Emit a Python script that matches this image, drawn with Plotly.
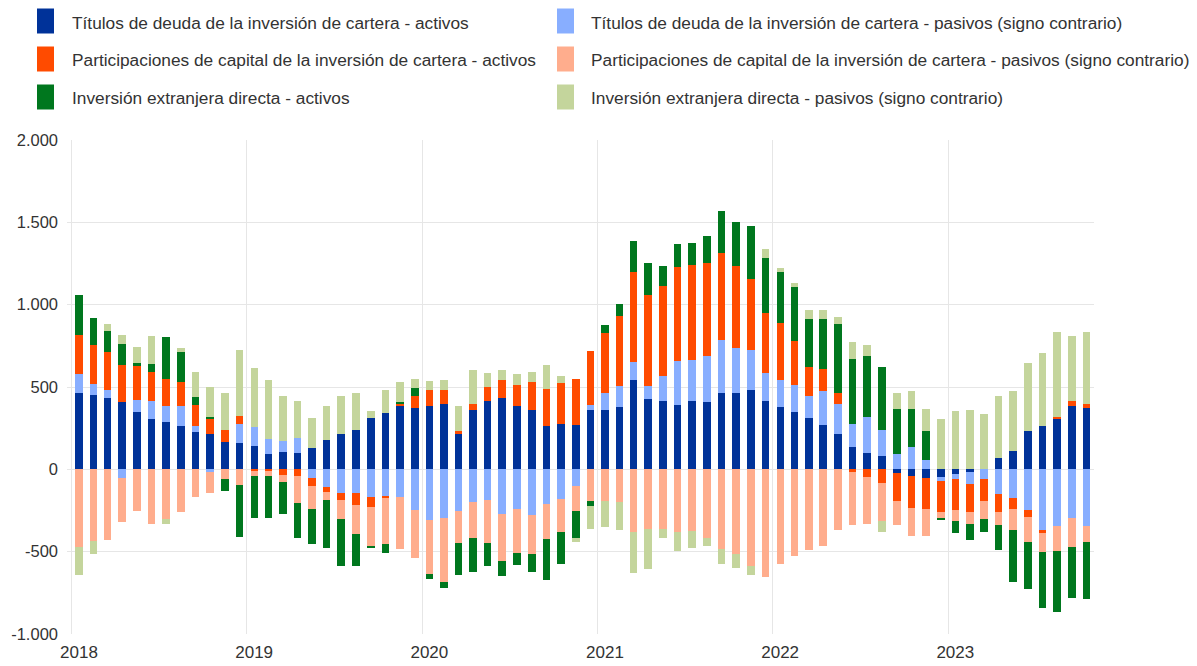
import plotly.graph_objects as go
import pandas as pd

# Monthly observations, Jan 2018 - Oct 2023 (EUR bn, 12-month sums)
months = pd.date_range("2018-01-01", "2023-10-01", freq="MS")

debt_assets = [465, 453, 435, 406, 349, 308, 288, 265, 228, 216, 163, 161,
               141, 92, 104, 100, 129, 177, 212, 239, 310, 343, 386, 375,
               386, 398, 212, 363, 412, 432, 384, 363, 265, 277, 271, 361,
               363, 377, 545, 426, 412, 392, 416, 406, 461, 461, 481, 418,
               376, 349, 310, 271, 212, 135, 98, 78, -22, -43, -51, -45,
               -31, -14, 0, 67, 112, 233, 265, 310, 386, 371]
debt_liab = [112, 63, 46, -51, 75, 110, 96, 121, 33, -16, 0, 112,
             118, 92, 69, 92, -51, -108, -145, -145, -165, -159, -165, -247,
             -306, -298, -255, -198, -188, -271, -239, -275, -208, -180, -102, 29,
             100, 131, 104, 78, 153, 267, 251, 284, 326, 273, 243, 165,
             166, 165, 137, 204, 186, 140, 220, 163, 94, 135, 59, -26,
             -30, -76, -59, -151, -177, -249, -373, -343, -296, -347]
equity_assets = [239, 237, 231, 226, 206, 172, 165, 146, 129, 94, 78, 49,
                 -8, -10, -35, -41, -51, -31, -41, -69, -61, -18, 10, 68,
                 97, 85, 21, 35, 88, 109, 130, 165, 223, 245, 280, 328,
                 365, 422, 548, 553, 549, 571, 571, 561, 529, 498, 431, 366,
                 348, 267, 175, 135, 63, -16, -45, -80, -170, -190, -188, -190,
                 -188, -167, -135, -106, -64, -43, -11, 10, 32, 27]
equity_liab = [-473, -437, -428, -271, -255, -333, -302, -261, -169, -125, -61, -98,
               -33, -31, -43, -165, -139, -49, -116, -176, -245, -278, -318, -294,
               -330, -385, -194, -218, -261, -286, -267, -239, -214, -201, -153, -190,
               -192, -198, -381, -365, -361, -381, -373, -414, -486, -512, -585, -651,
               -573, -528, -488, -467, -369, -323, -285, -234, -148, -173, -167, -33,
               -67, -76, -110, -84, -130, -147, -120, -153, -175, -94]
fdi_assets = [241, 165, 131, 127, 13, 49, 253, 178, 47, 10, -73, -312,
              -255, -255, -195, -208, -214, -287, -283, -195, -8, -51, 14, 53,
              -27, -37, -194, -206, -139, -92, -77, -108, -253, -194, -163, -30,
              47, 72, 190, 196, 122, 141, 139, 165, 255, 271, 324, 336,
              306, 325, 288, 300, 424, 394, 372, 379, 271, 230, 176, -16,
              -70, -95, -77, -151, -312, -285, -339, -369, -310, -348]
fdi_liab = [-170, -79, 40, 55, 102, 173, -28, 28, 155, 180, 222, 404,
            357, 357, 272, 224, 183, 207, 233, 226, 47, 136, 120, 55,
            54, 58, 151, 208, 85, 65, 63, 62, 148, 47, -23, -141,
            -159, -173, -247, -239, -57, -113, -104, -53, -89, -90, -58, 53,
            27, 24, 59, 59, 41, 104, 63, -65, 96, 110, 134, 308,
            357, 361, 337, 376, 361, 410, 439, 512, 390, 434]

series_names = [
    "Títulos de deuda de la inversión de cartera - activos",
    "Títulos de deuda de la inversión de cartera - pasivos (signo contrario)",
    "Participaciones de capital de la inversión de cartera - activos",
    "Participaciones de capital de la inversión de cartera - pasivos (signo contrario)",
    "Inversión extranjera directa - activos",
    "Inversión extranjera directa - pasivos (signo contrario)",
]
series_values = [debt_assets, debt_liab, equity_assets, equity_liab, fdi_assets, fdi_liab]
series_colors = ["#003299", "#88AEFF", "#FF4B00", "#FFAD8D", "#00771E", "#C4D59C"]

year_starts = ["2018-01-01", "2019-01-01", "2020-01-01", "2021-01-01", "2022-01-01", "2023-01-01"]
year_label_pos = ["2018-01-16", "2019-01-16", "2020-01-16", "2021-01-16", "2022-01-16", "2023-01-16"]
year_labels = ["2018", "2019", "2020", "2021", "2022", "2023"]
y_tickvals = [-1000, -500, 0, 500, 1000, 1500, 2000]
y_ticktext = ["-1.000", "-500", "0", "500", "1.000", "1.500", "2.000"]

FONT = "Arial, 'Liberation Sans', sans-serif"
TXT = "#333333"
GRID = "#E6E6E6"

# the page body adds an 8px offset; size the figure so it fits the window
OFF = 8
W, H = 1197 - OFF, 666 - OFF
ml, mr, mt, mb = 67 - OFF, 103, 140 - OFF, 32
PW, PH = W - ml - mr, H - mt - mb


def px_x(px):  # window pixel -> paper x
    return (px - OFF - ml) / PW


def px_y(py):  # window pixel -> paper y
    return 1 - (py - OFF - mt) / PH


fig = go.Figure()
for name, vals, col in zip(series_names, series_values, series_colors):
    fig.add_trace(go.Bar(
        x=months, y=vals, name=name, showlegend=False,
        marker=dict(color=col, line=dict(width=0)),
        xperiod="M1", xperiodalignment="middle",
        width=16 * 86400000,
    ))

# Two-column legend drawn as swatches + text (row-wise order)
col_swatch_x = [37, 557]
col_text_x = [70, 589]
row_y = [21, 59, 97]
shapes, annotations = [], []
for i, (name, col) in enumerate(zip(series_names, series_colors)):
    r, c = divmod(i, 2)
    sx, cy = col_swatch_x[c], row_y[r]
    shapes.append(dict(type="rect", xref="paper", yref="paper",
                       x0=px_x(sx), x1=px_x(sx + 17),
                       y0=px_y(cy - 12.5), y1=px_y(cy + 12.5),
                       fillcolor=col, line=dict(width=0), layer="above"))
    annotations.append(dict(text=name, xref="paper", yref="paper",
                            x=px_x(col_text_x[c]), y=px_y(cy + 1.5),
                            xanchor="left", yanchor="middle", showarrow=False,
                            font=dict(family=FONT, size=17.3, color=TXT)))

fig.update_layout(
    width=W, height=H,
    margin=dict(l=ml, r=mr, t=mt, b=mb, pad=0, autoexpand=False),
    paper_bgcolor="white", plot_bgcolor="white",
    barmode="relative", bargap=0,
    font=dict(family=FONT, size=17, color=TXT),
    showlegend=False,
    shapes=shapes, annotations=annotations,
    xaxis=dict(
        type="date",
        range=["2017-12-22", "2023-11-01"],
        tickmode="array", tickvals=year_label_pos, ticktext=year_labels,
        showgrid=False, ticks="", showline=False, zeroline=False,
        ticklabelstandoff=6,
        tickfont=dict(family=FONT, size=17, color=TXT),
        minor=dict(tickmode="array", tickvals=year_starts, showgrid=True,
                   gridcolor=GRID, gridwidth=1, ticks=""),
    ),
    yaxis=dict(
        range=[-1000, 2000],
        tickmode="array", tickvals=y_tickvals, ticktext=y_ticktext,
        showgrid=True, gridcolor=GRID, gridwidth=1,
        zeroline=False, showline=False, ticks="",
        ticklabelstandoff=8,
        tickfont=dict(family=FONT, size=16.5, color=TXT),
    ),
)

fig.write_html("out.html")
